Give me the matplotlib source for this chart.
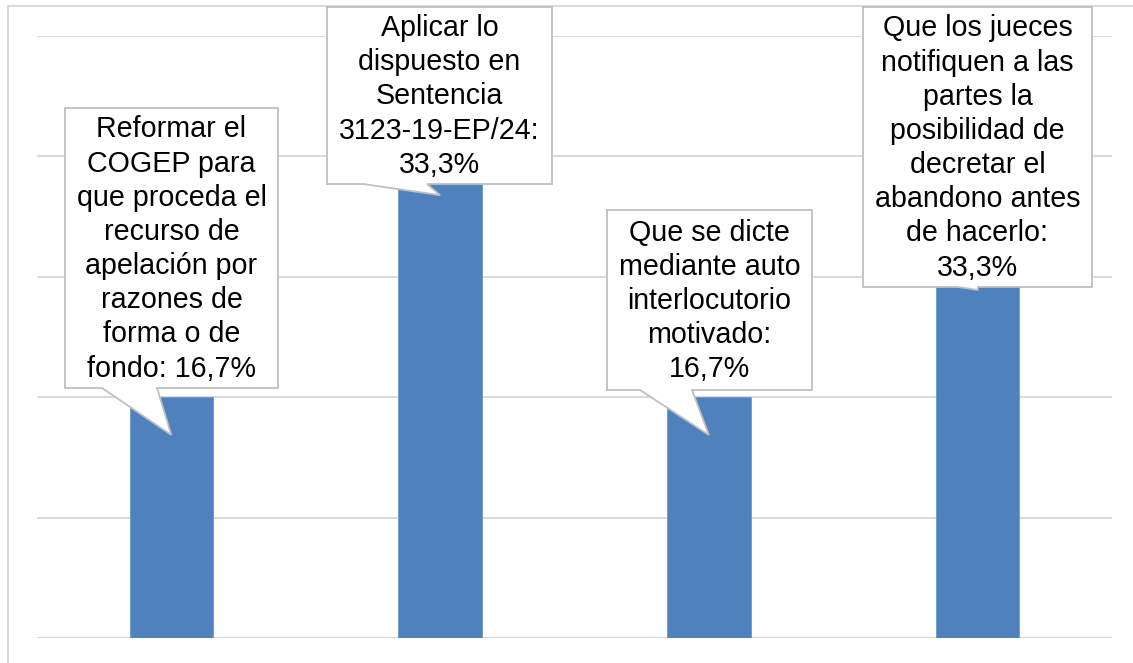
import matplotlib
matplotlib.use("Agg")
import matplotlib.pyplot as plt
from matplotlib.patches import Polygon
from matplotlib.lines import Line2D
import numpy as np

# encuesta: respuestas (porcentaje sobre 6 entrevistados)
etiquetas = [
    "Reformar el\nCOGEP para\nque proceda el\nrecurso de\napelación por\nrazones de\nforma o de\nfondo",
    "Aplicar lo\ndispuesto en\nSentencia\n3123-19-EP/24",
    "Que se dicte\nmediante auto\ninterlocutorio\nmotivado",
    "Que los jueces\nnotifiquen a las\npartes la\nposibilidad de\ndecretar el\nabandono antes\nde hacerlo",
]
valores = [16.7, 33.3, 16.7, 33.3]
# en que lineas va el porcentaje (junto al texto o en linea aparte)
sep = [" ", "\n", "\n", "\n"]

# cajas de los globos en pixeles (x0, x1, y_arriba, y_abajo) y base de la cola
cajas = [(65, 278, 108, 388), (327, 552, 7, 184), (607, 812, 210, 390), (863, 1092, 7, 287)]
colas = [(102, 157), (363, 427), (640, 692), (958, 978)]

W, H = 1133, 663
fig = plt.figure(figsize=(W / 100, H / 100), dpi=100)
ax = fig.add_axes([37 / W, (H - 638) / H, (1112 - 37) / W, (638 - 36) / H])

x = np.arange(len(valores))
ax.bar(x, valores, width=0.31, color="#4f81bd", edgecolor="#6b98cf", linewidth=0.6, zorder=2)

paso = 100 / 12
ax.set_ylim(0, 5 * paso)
ax.set_xlim(-0.5, len(valores) - 0.5)
ax.set_yticks(np.arange(0, 5 * paso + 0.01, paso))
ax.grid(axis="y", color="#d9d9d9", linewidth=1.4, zorder=0)
ax.tick_params(left=False, bottom=False, labelleft=False, labelbottom=False)
for s in ax.spines.values():
    s.set_visible(False)
ax.axhline(0, color="#d9d9d9", linewidth=1.6, zorder=1)

# marco del grafico
fig.add_artist(Line2D([7.5 / W, 7.5 / W], [0, (H - 6) / H], color="#d9d9d9", lw=1.4))
fig.add_artist(Line2D([7.5 / W, 1], [(H - 6) / H, (H - 6) / H], color="#d9d9d9", lw=1.4))

fig.canvas.draw()

def px(xp, yp):
    return ((xp) / W, (H - yp) / H)

for i, (txt, v) in enumerate(zip(etiquetas, valores)):
    x0, x1, yt, yb = cajas[i]
    b1, b2 = colas[i]
    # punta de la cola sobre la barra
    tx, ty = ax.transData.transform((x[i], v - 2.65))
    ty = H - ty
    ty = max(ty, yb + 3)
    pts = [px(x0, yt), px(x1, yt), px(x1, yb), px(b2, yb), px(tx, ty), px(b1, yb), px(x0, yb)]
    fig.add_artist(Polygon(pts, closed=True, facecolor="white", edgecolor="#bfbfbf",
                           linewidth=1.3, zorder=5, transform=fig.transFigure))
    label = txt + ":" + sep[i] + f"{v:.1f}%".replace(".", ",")
    cx, cy = px((x0 + x1) / 2, (yt + yb) / 2 + 1)
    fig.text(cx, cy, label, ha="center", va="center", multialignment="center",
             fontsize=20.6, family="Liberation Sans", linespacing=1.28, color="black", zorder=6)

plt.savefig("out.png", dpi=100)
